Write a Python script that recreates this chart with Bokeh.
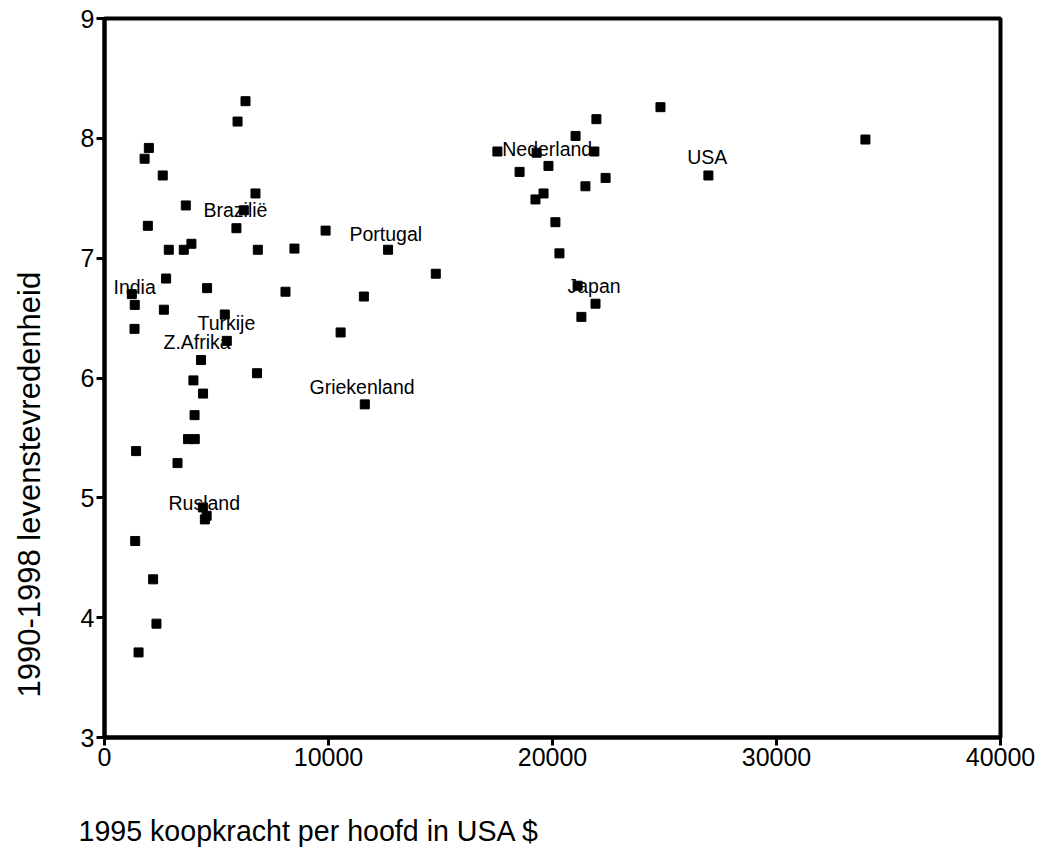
from bokeh.plotting import figure
from bokeh.models import Range1d, FixedTicker, Title, ColumnDataSource
from bokeh.core.properties import value
from bokeh.embed import file_html
from bokeh.resources import INLINE

# Data: 1995 purchasing power per head (USD) vs 1990-1998 life satisfaction
koopkracht = [
    6295, 5940, 1980, 1790, 2600, 6740, 3630, 6220, 1935, 5890,
    9870, 2870, 3540, 3880, 6845, 8480, 12660, 14790, 2750, 4580,
    8080, 1220, 1350, 2650, 5370, 1340, 5460, 11580, 10540, 4310,
    6810, 3970, 4400, 4020, 3730, 4030, 1410, 3260, 11620, 4390,
    4560, 4480, 1370, 2170, 2320, 1520,
    24820, 21960, 21030, 17540, 19290, 21870, 18530, 19820, 22370, 21470,
    19600, 19240, 20130, 20310, 21120, 21920, 21290, 26960, 33970,
]
tevredenheid = [
    8.31, 8.14, 7.92, 7.83, 7.69, 7.54, 7.44, 7.40, 7.27, 7.25,
    7.23, 7.07, 7.07, 7.12, 7.07, 7.08, 7.07, 6.87, 6.83, 6.75,
    6.72, 6.70, 6.61, 6.57, 6.53, 6.41, 6.31, 6.68, 6.38, 6.15,
    6.04, 5.98, 5.87, 5.69, 5.49, 5.49, 5.39, 5.29, 5.78, 4.92,
    4.85, 4.82, 4.64, 4.32, 3.95, 3.71,
    8.26, 8.16, 8.02, 7.89, 7.88, 7.89, 7.72, 7.77, 7.67, 7.60,
    7.54, 7.49, 7.30, 7.04, 6.77, 6.62, 6.51, 7.69, 7.99,
]

label_names = ["Nederland", "USA", "Japan", "Brazilië", "India", "Turkije",
               "Z.Afrika", "Rusland", "Portugal", "Griekenland"]
label_x = [17755, 26013, 20670, 4420, 402, 4152, 2634, 2857, 10938, 9152]
label_y = [7.912, 7.845, 6.766, 7.402, 6.757, 6.456, 6.297, 4.958, 7.201, 5.929]

x_ticks = [0, 10000, 20000, 30000, 40000]
y_ticks = [3, 4, 5, 6, 7, 8, 9]

FONT = "Liberation Sans"

p = figure(width=1035, height=851,
           x_range=Range1d(0, 40000), y_range=Range1d(3, 9),
           output_backend="svg", toolbar_location=None,
           min_border_left=104, min_border_right=35,
           min_border_top=18, min_border_bottom=114)

p.outline_line_color = "black"
p.outline_line_width = 4
p.xgrid.visible = False
p.ygrid.visible = False

for ax in (p.xaxis[0], p.yaxis[0]):
    ax.axis_line_width = 4
    ax.axis_line_color = "black"
    ax.major_tick_line_width = 3
    ax.major_tick_line_color = "black"
    ax.major_tick_out = 8
    ax.major_tick_in = 0
    ax.minor_tick_line_color = None
    ax.major_label_text_font = FONT
    ax.major_label_text_font_size = "25px"
    ax.major_label_text_color = "black"
    ax.major_label_standoff = 2

p.xaxis.ticker = FixedTicker(ticks=x_ticks)
p.yaxis.ticker = FixedTicker(ticks=y_ticks)

# y label: left title, shifted upward from the bottom of the frame
yt = Title(text="1990-1998 levenstevredenheid", align="left",
           text_font=FONT, text_font_size="31px", text_font_style="normal",
           text_color="black", offset=40)
p.add_layout(Title(text=" ", text_font_size="12px"), "left")
p.add_layout(yt, "left")

# x label: spacer then left-aligned title below
p.add_layout(Title(text=" ", text_font_size="24px"), "below")
xt = Title(text="1995 koopkracht per hoofd in USA $", align="left",
           text_font=FONT, text_font_size="28.6px", text_font_style="normal",
           text_color="black", offset=-26)
p.add_layout(xt, "below")

src = ColumnDataSource(data=dict(x=koopkracht, y=tevredenheid))
p.scatter("x", "y", source=src, marker="square", size=9,
          fill_color="black", line_color="black")

lsrc = ColumnDataSource(data=dict(x=label_x, y=label_y, t=label_names))
p.text("x", "y", text="t", source=lsrc, text_font=value(FONT),
       text_font_size="19.5px", text_align="left", text_baseline="alphabetic",
       text_color="black")

open("out.html", "w").write(file_html(p, INLINE))
